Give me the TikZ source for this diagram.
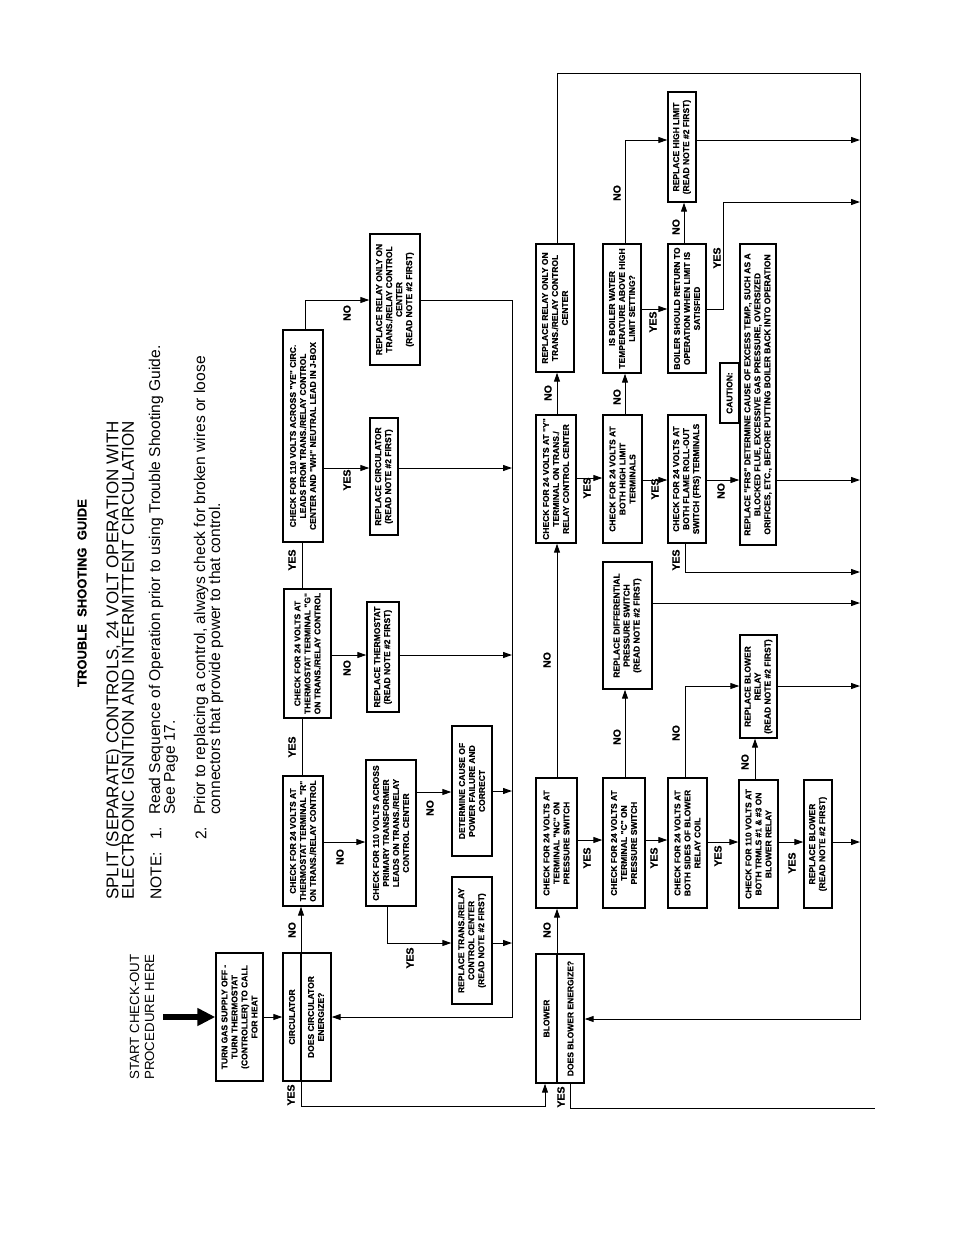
\documentclass[tikz,border=0pt]{standalone}
\usepackage{fontspec}
\setmainfont{Liberation Sans}
\newfontfamily\heavyfont{Liberation Sans}[BoldFeatures={FakeBold=0.4}]
\usetikzlibrary{arrows.meta}
\newcommand\flowbox[6]{\node[box, minimum width={(#5-#4)*1pt}, minimum height={(#3-#2)*1pt}] (#1) at ({(#2+#3)/2},{(#4+#5)/2}) {#6};}
\newcommand\lab[3]{\node[lbl] (#1) at (#2) {#3};}
\begin{document}
\begin{tikzpicture}[x=1pt,y=-1pt,
  box/.style={draw, line width=1.4pt, rotate=90, align=center, inner sep=1pt, font=\heavyfont\bfseries\fontsize{8.5}{10}\selectfont},
  lbl/.style={rotate=90, inner sep=0pt, font=\heavyfont\bfseries\fontsize{10.5}{12}\selectfont},
  conn/.style={line width=1pt},
  arr/.style={conn, -{Triangle[length=9pt,width=6pt]}},
  bigarr/.style={line width=6pt, -{Triangle[length=18pt,width=17pt]}},
  bigtext/.style={rotate=90, inner sep=0pt},
  notetext/.style={rotate=90, inner sep=0pt, anchor=west, font=\fontsize{15.6}{18}\selectfont}]
\useasboundingbox (0,0) rectangle (954,1235);
\fill[white] (0,0) rectangle (954,1235);

% ---------- headings ----------
\node[bigtext, font=\heavyfont\bfseries\fontsize{13}{15}\selectfont] (title) at (82,593) {TROUBLE\ \ SHOOTING\ \ GUIDE};
\node[bigtext, anchor=west, align=left, font=\fontsize{17}{15.5}\selectfont] (sub) at (120,900) {SPLIT (SEPARATE) CONTROLS, 24 VOLT OPERATION WITH\\ELECTRONIC IGNITION AND INTERMITTENT CIRCULATION};
\node[notetext] (nA) at (156,900) {NOTE:};
\node[notetext] (nB) at (156,840) {1.};
\node[notetext] (nC) at (156,815) {Read Sequence of Operation prior to using Trouble Shooting Guide.};
\node[notetext] (nD) at (171,815) {See Page 17.};
\node[notetext] (nE) at (201,840) {2.};
\node[notetext] (nF) at (201,815) {Prior to replacing a control, always check for broken wires or loose};
\node[notetext] (nG) at (216,815) {connectors that provide power to that control.};
\node[bigtext, align=center, font=\fontsize{13.3}{15}\selectfont] (start) at (142,1017) {START CHECK-OUT\\PROCEDURE HERE};
\coordinate (bigA) at (163,1017);

% ---------- upper row boxes ----------
\flowbox{turn}{216}{263}{953}{1081}{TURN GAS SUPPLY OFF -\\TURN THERMOSTAT\\(CONTROLLER) TO CALL\\FOR HEAT}
\flowbox{circL}{283}{301}{953}{1081}{CIRCULATOR}
\flowbox{circR}{301}{331}{953}{1081}{DOES CIRCULATOR\\ENERGIZE?}
\flowbox{checkR}{283}{323}{776}{906}{CHECK FOR 24 VOLTS AT\\THERMOSTAT TERMINAL "R"\\ON TRANS./RELAY CONTROL}
\flowbox{chkP}{366}{416}{760}{906}{CHECK FOR 110 VOLTS ACROSS\\PRIMARY TRANSFORMER\\LEADS ON TRANS./RELAY\\CONTROL CENTER}
\flowbox{determ}{452}{492}{726}{856}{DETERMINE CAUSE OF\\POWER FAILURE AND\\CORRECT}
\flowbox{replTR}{452}{492}{877}{1004}{REPLACE TRANS./RELAY\\CONTROL CENTER\\(READ NOTE \#2 FIRST)}
\flowbox{checkG}{284}{331}{589}{718}{CHECK FOR 24 VOLTS AT\\THERMOSTAT TERMINAL "G"\\ON TRANS./RELAY CONTROL}
\flowbox{replTh}{367}{399}{602}{712}{REPLACE THERMOSTAT\\(READ NOTE \#2 FIRST)}
\flowbox{checkYa}{283}{323}{330}{542}{CHECK FOR 110 VOLTS ACROSS "YE" CIRC.\\LEADS FROM TRANS./RELAY CONTROL\\CENTER AND "WH" NEUTRAL LEAD IN J-BOX}
\flowbox{replCirc}{370}{398}{418}{535}{REPLACE CIRCULATOR\\(READ NOTE \#2 FIRST)}
\flowbox{replRa}{370}{420}{234}{365}{REPLACE RELAY ONLY ON\\TRANS./RELAY CONTROL\\CENTER\\(READ NOTE \#2 FIRST)}

% ---------- lower row boxes ----------
\flowbox{blowL}{536}{557}{954}{1083}{BLOWER}
\flowbox{blowR}{557}{584}{954}{1083}{DOES BLOWER ENERGIZE?}
\flowbox{chkNC}{536}{577}{778}{908}{CHECK FOR 24 VOLTS AT\\TERMINAL "NC" ON\\PRESSURE SWITCH}
\flowbox{chkC}{603}{645}{778}{908}{CHECK FOR 24 VOLTS AT\\TERMINAL "C" ON\\PRESSURE SWITCH}
\flowbox{chkBS}{668}{707}{778}{908}{CHECK FOR 24 VOLTS AT\\BOTH SIDES OF BLOWER\\RELAY COIL}
\flowbox{chkT}{739}{778}{780}{908}{CHECK FOR 110 VOLTS AT\\BOTH TRMLS \#1 \& \#3 ON\\BLOWER RELAY}
\flowbox{replBl}{804}{832}{780}{908}{REPLACE BLOWER\\(READ NOTE \#2 FIRST)}
\flowbox{replBR}{740}{777}{635}{738}{REPLACE BLOWER\\RELAY\\(READ NOTE \#2 FIRST)}
\flowbox{replDP}{603}{652}{562}{689}{REPLACE DIFFERENTIAL\\PRESSURE SWITCH\\(READ NOTE \#2 FIRST)}
\flowbox{chkYb}{536}{576}{415}{543}{CHECK FOR 24 VOLTS AT "Y"\\TERMINAL ON TRANS./\\RELAY CONTROL CENTER}
\flowbox{replRb}{536}{574}{244}{372}{REPLACE RELAY ONLY ON\\TRANS./RELAY CONTROL\\CENTER}
\flowbox{chkHL}{603}{642}{415}{543}{CHECK FOR 24 VOLTS AT\\BOTH HIGH LIMIT\\TERMINALS}
\flowbox{boilW}{603}{641}{244}{373}{IS BOILER WATER\\TEMPERATURE ABOVE HIGH\\LIMIT SETTING?}
\flowbox{replHL}{668}{696}{92}{202}{REPLACE HIGH LIMIT\\(READ NOTE \#2 FIRST)}
\flowbox{boilR}{668}{706}{244}{373}{BOILER SHOULD RETURN TO\\OPERATION WHEN LIMIT IS\\SATISFIED}
\flowbox{chkFRS}{668}{706}{415}{543}{CHECK FOR 24 VOLTS AT\\BOTH FLAME ROLL-OUT\\SWITCH (FRS) TERMINALS}
\flowbox{replFRS}{740}{776}{244}{545}{REPLACE "FRS" DETERMINE CAUSE OF EXCESS TEMP., SUCH AS A\\BLOCKED FLUE, EXCESSIVE GAS PRESSURE, OVERSIZED\\ORIFICES, ETC., BEFORE PUTTING BOILER BACK INTO OPERATION}
\flowbox{caution}{720}{739}{363}{423}{CAUTION:}

% ---------- upper row connectors ----------
\draw[bigarr] (bigA) -- (turn.north);
\draw[arr] (turn.south) -- (circL.north);
\draw[arr] (301,0 |- circR.east) -- (301,0 |- checkR.west);
\lab{l1}{292,930}{NO}
\draw[conn] (302,0 |- checkR.east) -- (302,0 |- checkG.west);
\lab{l2}{292,747}{YES}
\draw[conn] (302,0 |- checkG.east) -- (302,0 |- checkYa.west);
\lab{l3}{292,560}{YES}
\draw[arr] (305,0 |- checkYa.east) -- (305,300) -- (replRa.north |- 0,300);
\lab{l4}{347,313}{NO}
\draw[arr] (checkYa.south |- 0,468) -- (replCirc.north |- 0,468);
\lab{l5}{347,480}{YES}
\draw[arr] (checkG.south |- 0,655) -- (replTh.north |- 0,655);
\lab{l6}{347,668}{NO}
\draw[arr] (checkR.south |- 0,842) -- (chkP.north |- 0,842);
\lab{l7}{340,857}{NO}
\draw[arr] (chkP.south |- 0,792) -- (determ.north |- 0,792);
\lab{l8}{430,808}{NO}
\draw[arr] (387,0 |- chkP.west) -- (387,943) -- (replTR.north |- 0,943);
\lab{l9}{410,958}{YES}
\coordinate (r1) at (512,300);
\coordinate (r2) at (512,1017);
\draw[arr] (replRa.south |- 0,300) -- (r1) -- (r2) -- (circR.south);
\draw[arr] (replCirc.south |- 0,468) -- (512,468);
\draw[arr] (replTh.south |- 0,655) -- (512,655);
\draw[arr] (determ.south |- 0,791) -- (512,791);
\draw[arr] (replTR.south |- 0,943) -- (512,943);
\draw[arr] (301,0 |- circR.west) -- (301,1106) -- (545,1106) -- (545,0 |- blowL.west);
\lab{l10}{291,1095}{YES}

% ---------- lower row connectors ----------
\draw[arr] (557,0 |- blowR.east) -- (557,0 |- chkNC.west);
\lab{m1}{547,930}{NO}
\draw[arr] (557,0 |- chkNC.east) -- (557,0 |- chkYb.west);
\lab{m2}{547,660}{NO}
\draw[arr] (557,0 |- chkYb.east) -- (557,0 |- replRb.west);
\lab{m3}{548,393}{NO}
\coordinate (t1) at (557,73);
\coordinate (t2) at (860,73);
\coordinate (t3) at (860,1019);
\draw[arr] (557,0 |- replRb.east) -- (t1) -- (t2) -- (t3) -- (blowR.south |- 0,1019);
\draw[arr] (chkNC.south |- 0,840) -- (chkC.north |- 0,840);
\lab{m4}{587,858}{YES}
\draw[arr] (chkC.south |- 0,840) -- (chkBS.north |- 0,840);
\lab{m5}{654,858}{YES}
\draw[arr] (chkBS.south |- 0,842) -- (chkT.north |- 0,842);
\lab{m6}{718,856}{YES}
\draw[arr] (chkT.south |- 0,842) -- (replBl.north |- 0,842);
\lab{m7}{792,863}{YES}
\draw[arr] (replBl.south |- 0,842) -- (860,842);
\draw[arr] (755,0 |- chkT.east) -- (755,0 |- replBR.west);
\lab{m8}{745,762}{NO}
\draw[arr] (685,0 |- chkBS.east) -- (685,686) -- (replBR.north |- 0,686);
\lab{m9}{676,733}{NO}
\draw[arr] (replBR.south |- 0,686) -- (860,686);
\draw[arr] (625,0 |- chkC.east) -- (625,0 |- replDP.west);
\lab{m10}{617,737}{NO}
\draw[arr] (replDP.south |- 0,603) -- (860,603);
\draw[arr] (chkYb.south |- 0,478) -- (chkHL.north |- 0,478);
\lab{m11}{587,488}{YES}
\draw[arr] (625,0 |- chkHL.east) -- (625,0 |- boilW.west);
\lab{m12}{617,397}{NO}
\draw[arr] (chkHL.south |- 0,480) -- (chkFRS.north |- 0,480);
\lab{m13}{655,489}{YES}
\draw[arr] (685,0 |- chkFRS.west) -- (685,572) -- (860,572);
\lab{m14}{676,560}{YES}
\draw[arr] (chkFRS.south |- 0,480) -- (replFRS.north |- 0,480);
\lab{m15}{721,491}{NO}
\draw[arr] (replFRS.south |- 0,480) -- (860,480);
\draw[arr] (boilW.south |- 0,309) -- (boilR.north |- 0,309);
\lab{m16}{653,322}{YES}
\draw[arr] (625,0 |- boilW.east) -- (625,140) -- (replHL.north |- 0,140);
\lab{m17}{617,193}{NO}
\draw[arr] (684,0 |- boilR.east) -- (684,0 |- replHL.west);
\lab{m18}{676,227}{NO}
\draw[arr] (boilR.south |- 0,309) -- (723,309) -- (723,202) -- (860,202);
\lab{m19}{717,258}{YES}
\draw[arr] (replHL.south |- 0,140) -- (860,140);
\coordinate (bEnd) at (875,1108);
\draw[conn] (570,0 |- blowR.west) -- (570,1108) -- (bEnd);
\lab{m20}{561,1097}{YES}
\end{tikzpicture}
\end{document}
